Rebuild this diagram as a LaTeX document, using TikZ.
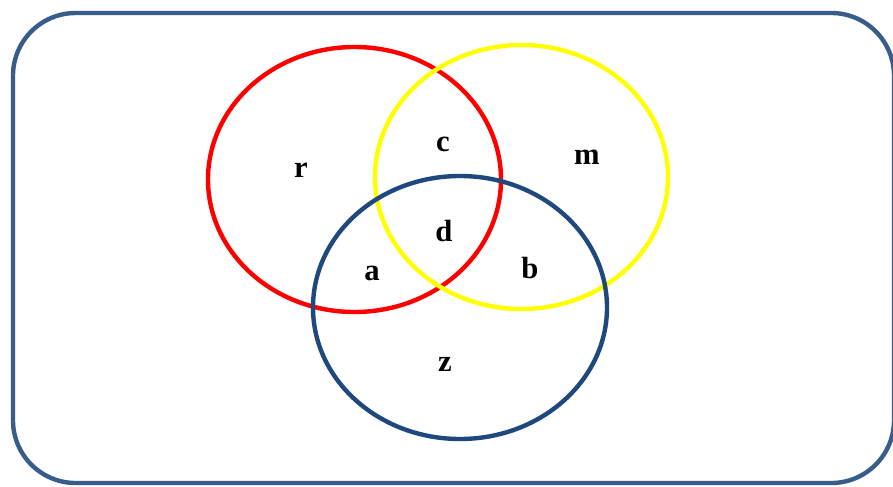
\documentclass[tikz,border=0pt]{standalone}
\usepackage{fontspec}
\setmainfont{Liberation Serif}
\definecolor{frameblue}{RGB}{56,93,138}
\definecolor{setblue}{RGB}{31,73,125}
\definecolor{setred}{RGB}{255,0,0}
\definecolor{setyellow}{RGB}{255,255,0}
\tikzset{
  setline/.style={line width=3.3pt},
  lbl/.style={inner sep=0pt, font=\fontsize{23}{27}\selectfont\bfseries}
}
\begin{document}
\begin{tikzpicture}[x=0.75pt,y=-0.75pt]
\useasboundingbox (0,0) rectangle (893,486);
\fill[white] (0,0) rectangle (893,486);
\draw[frameblue, setline, rounded corners=47pt] (13,13) rectangle (894,483);
\draw[setred, setline] (354.5,179.5) ellipse [x radius=146.5, y radius=132.5];
\draw[setyellow, setline] (521.5,177) ellipse [x radius=146.5, y radius=132];
\draw[setblue, setline] (460,307.5) ellipse [x radius=147, y radius=131.5];
\node[lbl] (r) at (301,170) {r};
\node[lbl] (c) at (443,144) {c};
\node[lbl] (m) at (587,157) {m};
\node[lbl] (d) at (444,231) {d};
\node[lbl] (a) at (372,273) {a};
\node[lbl] (b) at (530,268) {b};
\node[lbl] (z) at (445,364) {z};
\end{tikzpicture}
\end{document}
